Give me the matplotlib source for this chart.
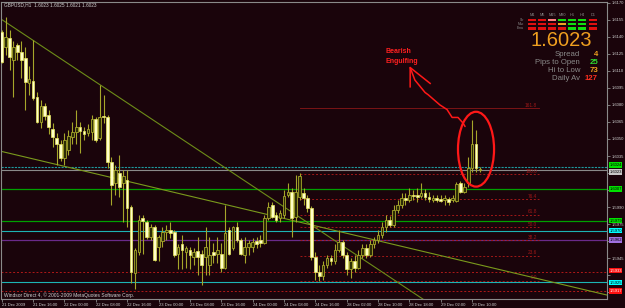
import matplotlib
matplotlib.use("Agg")
import matplotlib.pyplot as plt
from matplotlib.patches import Ellipse, Rectangle

# ---------------- data ----------------
opens = [
1.6144, 1.6131, 1.6139, 1.6120, 1.6133, 1.6127, 1.6121, 1.6099, 1.6101, 1.6087,
1.6065, 1.6079, 1.6071, 1.6059, 1.6051, 1.6046, 1.6033, 1.6040, 1.6052, 1.6056,
1.6061, 1.6057, 1.6055, 1.6056, 1.6068, 1.6051, 1.6070, 1.6069, 1.6030, 1.6011,
1.6020, 1.6011, 1.6014, 1.5990, 1.5932, 1.5950, 1.5980, 1.5977, 1.5964, 1.5972,
1.5955, 1.5960, 1.5968, 1.5970, 1.5968, 1.5949, 1.5957, 1.5950, 1.5952, 1.5946,
1.5951, 1.5949, 1.5946, 1.5939, 1.5950, 1.5949, 1.5949, 1.5936, 1.5970, 1.5954,
1.5972, 1.5961, 1.5948, 1.5955, 1.5955, 1.5960, 1.5961, 1.5958, 1.5980, 1.5992,
1.5983, 1.5980, 1.5983, 1.6001, 1.6003, 1.5981, 1.5999, 1.6002, 1.5998, 1.5989,
1.5946, 1.5933, 1.5929, 1.5939, 1.5945, 1.5942, 1.5952, 1.5959, 1.5948, 1.5935,
1.5942, 1.5936, 1.5948, 1.5954, 1.5948, 1.5957, 1.5961, 1.5965, 1.5972, 1.5979,
1.5974, 1.5987, 1.5992, 1.5998, 1.5996, 1.6001, 1.6001, 1.6000, 1.6002, 1.5999,
1.5996, 1.5998, 1.5997, 1.5996, 1.5997, 1.5996, 1.5995, 1.6011, 1.6003, 1.6011,
1.6024, 1.6046, 1.6023]
highs = [
1.6146, 1.6158, 1.6146, 1.6136, 1.6135, 1.6136, 1.6131, 1.6114, 1.6137, 1.6091,
1.6084, 1.6082, 1.6076, 1.6064, 1.6055, 1.6049, 1.6055, 1.6058, 1.6065, 1.6076,
1.6065, 1.6061, 1.6063, 1.6071, 1.6069, 1.6098, 1.6089, 1.6071, 1.6034, 1.6027,
1.6036, 1.6023, 1.6023, 1.5992, 1.5954, 1.5983, 1.5983, 1.5979, 1.5975, 1.5974,
1.5965, 1.5972, 1.5974, 1.5977, 1.5970, 1.5957, 1.5965, 1.5956, 1.5955, 1.5954,
1.5964, 1.5952, 1.5972, 1.5964, 1.5958, 1.5964, 1.5958, 1.5992, 1.5972, 1.5973,
1.5977, 1.5963, 1.5964, 1.5961, 1.5963, 1.5964, 1.5965, 1.5983, 1.5994, 1.5994,
1.5986, 1.5987, 1.6005, 1.6011, 1.6007, 1.6018, 1.6020, 1.6007, 1.6001, 1.5991,
1.5950, 1.5939, 1.5942, 1.5948, 1.5948, 1.5957, 1.5970, 1.5961, 1.5950, 1.5945,
1.5948, 1.5952, 1.5957, 1.5957, 1.5961, 1.5964, 1.5970, 1.5977, 1.5983, 1.5982,
1.5992, 1.5996, 1.6002, 1.6002, 1.6007, 1.6005, 1.6007, 1.6011, 1.6006, 1.6003,
1.6001, 1.6001, 1.6001, 1.6001, 1.5999, 1.6001, 1.6012, 1.6013, 1.6011, 1.6034,
1.6067, 1.6058, 1.6025]
lows = [
1.6117, 1.6124, 1.6111, 1.6087, 1.6120, 1.6104, 1.6076, 1.6089, 1.6084, 1.6064,
1.6060, 1.6067, 1.6054, 1.6043, 1.6027, 1.6031, 1.6027, 1.6036, 1.6046, 1.6046,
1.6038, 1.6049, 1.6053, 1.6049, 1.6047, 1.6049, 1.6064, 1.6024, 1.5992, 1.6001,
1.5999, 1.5977, 1.5972, 1.5923, 1.5918, 1.5948, 1.5949, 1.5962, 1.5961, 1.5942,
1.5942, 1.5955, 1.5961, 1.5963, 1.5946, 1.5935, 1.5935, 1.5936, 1.5935, 1.5939,
1.5930, 1.5921, 1.5930, 1.5930, 1.5941, 1.5941, 1.5933, 1.5935, 1.5948, 1.5952,
1.5959, 1.5948, 1.5941, 1.5948, 1.5950, 1.5954, 1.5955, 1.5957, 1.5979, 1.5980,
1.5977, 1.5977, 1.5980, 1.5999, 1.5964, 1.5977, 1.5996, 1.5992, 1.5986, 1.5943,
1.5926, 1.5925, 1.5926, 1.5936, 1.5939, 1.5940, 1.5950, 1.5945, 1.5930, 1.5927,
1.5933, 1.5935, 1.5945, 1.5945, 1.5946, 1.5954, 1.5958, 1.5963, 1.5968, 1.5972,
1.5972, 1.5985, 1.5989, 1.5992, 1.5994, 1.5996, 1.5994, 1.5998, 1.5996, 1.5994,
1.5994, 1.5994, 1.5994, 1.5992, 1.5992, 1.5994, 1.5994, 1.6002, 1.6002, 1.6008,
1.6021, 1.6021, 1.6021]
closes = [
1.6118, 1.6140, 1.6122, 1.6131, 1.6127, 1.6120, 1.6100, 1.6103, 1.6086, 1.6065,
1.6079, 1.6070, 1.6061, 1.6052, 1.6046, 1.6033, 1.6049, 1.6053, 1.6056, 1.6061,
1.6057, 1.6054, 1.6059, 1.6068, 1.6049, 1.6069, 1.6069, 1.6030, 1.6009, 1.6023,
1.6008, 1.6017, 1.5989, 1.5933, 1.5952, 1.5979, 1.5978, 1.5964, 1.5972, 1.5943,
1.5964, 1.5968, 1.5970, 1.5967, 1.5948, 1.5955, 1.5952, 1.5954, 1.5948, 1.5950,
1.5946, 1.5939, 1.5955, 1.5948, 1.5948, 1.5952, 1.5936, 1.5967, 1.5949, 1.5972,
1.5961, 1.5949, 1.5955, 1.5958, 1.5959, 1.5957, 1.5958, 1.5980, 1.5990, 1.5981,
1.5979, 1.5985, 1.6000, 1.6003, 1.5980, 1.6003, 1.6017, 1.5998, 1.5989, 1.5946,
1.5933, 1.5929, 1.5939, 1.5945, 1.5942, 1.5952, 1.5959, 1.5948, 1.5935, 1.5942,
1.5936, 1.5948, 1.5954, 1.5948, 1.5957, 1.5961, 1.5965, 1.5972, 1.5979, 1.5974,
1.5987, 1.5992, 1.5998, 1.5996, 1.6001, 1.6000, 1.5999, 1.6002, 1.5999, 1.5997,
1.5998, 1.5996, 1.5995, 1.5998, 1.5994, 1.5998, 1.6010, 1.6003, 1.6008, 1.6024,
1.6046, 1.6024, 1.6023]

time_labels = ["21 Dec 2009", "21 Dec 16:00", "22 Dec 00:00", "22 Dec 08:00",
               "22 Dec 16:00", "23 Dec 00:00", "23 Dec 08:00", "23 Dec 16:00",
               "24 Dec 00:00", "24 Dec 08:00", "24 Dec 16:00", "28 Dec 02:00",
               "28 Dec 10:00", "28 Dec 18:00", "29 Dec 02:00", "29 Dec 10:00"]
time_label_bars = [0, 8, 16, 24, 32, 40, 48, 56, 64, 72, 80, 88, 96, 104, 112, 120]

price_ticks = [1.6170, 1.6155, 1.6140, 1.6125, 1.6110, 1.6095, 1.6080, 1.6065,
               1.6050, 1.6035, 1.6020, 1.6005, 1.5990, 1.5975, 1.5960, 1.5945,
               1.5930, 1.5915]
# tick labels hidden behind the coloured price boxes in the original
hidden_ticks = [1.6020, 1.6005, 1.5960, 1.5930, 1.5915]

# horizontal levels: price, label text
level_prices = [1.6025, 1.6023, 1.6006, 1.5978, 1.5969, 1.5961, 1.5933, 1.5924, 1.5916]
level_labels = ["1.6024", "1.6023", "1.6007", "1.5979", "1.5970", "1.5962", "1.5933", "1.5925", "1.5917"]

# Fibonacci retracement
fib_high = 1.6019
fib_low = 1.5925
fib_levels = [0.0, 23.6, 38.2, 50.0, 61.8, 76.4, 100.0, 161.8]
fib_start_bar = 76
fib_end_bar = 137

# trend lines (bar, price) anchor pairs
upper_trend = [(8, 1.6137), (25, 1.6098)]
lower_trend = [(0, 1.6039), (100, 1.5957)]

# hand-drawn arrow (bar, price)
arrow_bars = [118.2, 117.7, 116.4, 114.9, 113.6, 111.8, 108.8, 108.0, 105.4, 104.2]
arrow_prices = [1.6061, 1.6064, 1.6069, 1.6069, 1.6076, 1.6080, 1.6089, 1.6091, 1.6102, 1.6113]
arrow_head_bars = [109.3, 104.2, 104.2]
arrow_head_prices = [1.6099, 1.6113, 1.6096]

header = "GBPUSD,H1  1.6023 1.6025 1.6021 1.6023"
bid = "1.6023"
stats_names = ["Spread", "Pips to Open", "Hi to Low", "Daily Av"]
stats_values = ["4", "25", "73", "127"]
tf_names = ["M1", "M5", "M15", "M30", "H1", "H4", "D1"]
signal_rows = [
    ["r", "r", "p", "g", "g", "g", "r"],
    ["r", "r", "r", "o", "g", "g", "r"],
    ["r", "r", "r", "r", "g", "g", "r"],
]

# ---------------- style ----------------
W, H = 625, 308
BG = "#1a040b"
FONT = "Liberation Sans"
plt.rcParams["font.family"] = [FONT, "DejaVu Sans"]

fig = plt.figure(figsize=(W / 100, H / 100), dpi=100, facecolor=BG)

def fx(x):
    return x / W

def fy(y):
    return 1 - y / H

ax_l, ax_r, ax_t, ax_b = 1, 607, 2, 299
ax = fig.add_axes([fx(ax_l), fy(ax_b), (ax_r - ax_l) / W, (ax_b - ax_t) / H])
ax.set_facecolor(BG)

PX_PER_BAR = 3.92
x0 = (ax_l - 1.7) / PX_PER_BAR
x1 = (ax_r - 1.7) / PX_PER_BAR
ax.set_xlim(x0, x1)
ax.set_ylim(1.59089, 1.61708)

for s in ax.spines.values():
    s.set_color("#8a8a8a")
    s.set_linewidth(0.8)

# horizontal lines
hl_styles = [
    dict(color="#1e9aa0", ls=(0, (2, 1)), lw=0.8),
    dict(color="#8a8a8a", ls="-", lw=0.8),
    dict(color="#00a000", ls="-", lw=0.9),
    dict(color="#00a000", ls="-", lw=0.9),
    dict(color="#1cb4b4", ls="-", lw=0.8),
    dict(color="#6a2a8a", ls="-", lw=0.9),
    dict(color="#b01818", ls=(0, (2, 2)), lw=0.7),
    dict(color="#1cb4b4", ls="-", lw=0.8),
    dict(color="#b01818", ls=(0, (2, 2)), lw=0.7),
]
for p, st in zip(level_prices, hl_styles):
    ax.axhline(p, zorder=1, **st)

# fib lines
for lv in fib_levels:
    p = fib_low + (fib_high - fib_low) * lv / 100.0
    ls = "-" if lv == 161.8 else (0, (2, 2))
    col = "#7a1416" if lv == 161.8 else "#a01818"
    ax.plot([fib_start_bar, fib_end_bar], [p, p], color=col, lw=0.7, ls=ls, zorder=1)
    ax.text(fib_end_bar - 0.5, p + 0.00004, f"{lv:.1f}", color="#a01818",
            fontsize=3.4, ha="right", va="bottom", zorder=2)

# trend lines (rays)
def ray(pts, color):
    (b1, p1), (b2, p2) = pts
    slope = (p2 - p1) / (b2 - b1)
    xs = [x0 - 1, x1 + 1]
    ys = [p1 + slope * (x - b1) for x in xs]
    ax.plot(xs, ys, color=color, lw=0.8, zorder=2)

ray(upper_trend, "#6d8c18")
ray(lower_trend, "#7a9a1c")

# candles
n = len(opens)
bw = 0.68
for i in range(n):
    o, h, l, c = opens[i], highs[i], lows[i], closes[i]
    bear = c < o
    ax.vlines(i, l, h, color="#a6a62a", lw=0.8, zorder=3)
    lo, hi = min(o, c), max(o, c)
    height = max(hi - lo, 0.00003)
    if bear:
        ax.add_patch(Rectangle((i - bw / 2, lo), bw, height, facecolor="#ffffc8",
                               edgecolor="#eaea60", lw=0.5, zorder=4))
    else:
        ax.add_patch(Rectangle((i - bw / 2, lo), bw, height, facecolor="#2c2c06",
                               edgecolor="#a6a62a", lw=0.6, zorder=4))

# axes ticks
ax.yaxis.tick_right()
ax.set_yticks(price_ticks)
ax.set_yticklabels(["" if p in hidden_ticks else f"{p:.4f}" for p in price_ticks])
ax.tick_params(axis="y", colors="#8a8a8a", labelcolor="#d0d0d0", labelsize=3.0,
               length=2, width=0.6, pad=1.2)
ax.set_xticks(time_label_bars)
ax.set_xticklabels(time_labels)
for t in ax.get_xticklabels():
    t.set_horizontalalignment("left")
ax.tick_params(axis="x", colors="#8a8a8a", labelcolor="#d0d0d0", labelsize=3.0,
               length=2, width=0.6, pad=0.6)

# colored price labels on right axis
lab_cols = [("#00e000", "#000000"), ("#c8c8c8", "#000000"), ("#00e000", "#000000"),
            ("#00e000", "#000000"), ("#00ffff", "#000000"), ("#a070e0", "#000000"),
            ("#ff1010", "#ffffff"), ("#00ffff", "#000000"), ("#ff1010", "#ffffff")]
lab_dy = [1.6, -1.8, 0, 0, 0, 0, 0.6, -0.6, 0]
for p, txt, (bc, tc), dy in zip(level_prices, level_labels, lab_cols, lab_dy):
    ax.annotate(txt, xy=(1.0, p), xycoords=("axes fraction", "data"),
                xytext=(1.6, dy), textcoords="offset points", fontsize=3.0,
                color=tc, va="center", ha="left", annotation_clip=False,
                bbox=dict(boxstyle="square,pad=0.15", fc=bc, ec="none"), zorder=10)

# header & copyright
fig.text(fx(4), fy(5), header, color="#d0d0d0", fontsize=3.4, ha="left", va="center")
fig.text(fx(4), fy(295), "Windsor Direct 4, \u00a9 2001-2009 MetaQuotes Software Corp.",
         color="#d0d0d0", fontsize=3.5, ha="left", va="center")

# annotation: Bearish Engulfing
ax.text(97.9, 1.6123, "Bearish\nEngulfing", color="#ff2020", fontsize=5.0,
        fontweight="bold", ha="left", va="center", linespacing=1.6, zorder=6)
ax.plot(arrow_bars, arrow_prices, color="#ff1818", lw=1.1, zorder=6,
        solid_capstyle="round", solid_joinstyle="round")
ax.plot(arrow_head_bars, arrow_head_prices, color="#ff1818", lw=1.1, zorder=6,
        solid_joinstyle="round")
ax.add_patch(Ellipse((121.0, 1.6041), 9.2, 0.0066, fill=False, ec="#ff1818",
                     lw=1.6, zorder=6))

# info panel
fig.text(fx(592), fy(41), bid, color="#f0a020", fontsize=14.5, ha="right",
         va="center")
ys = [55, 63, 70, 78]
val_cols = ["#f0a020", "#30e030", "#f0a020", "#ff3020"]
for yy, nm, v, vc in zip(ys, stats_names, stats_values, val_cols):
    fig.text(fx(580), fy(yy), nm, color="#8a8a8a", fontsize=5.6, ha="right", va="center")
    fig.text(fx(598), fy(yy), v, color=vc, fontsize=5.6, ha="right", va="center",
             fontweight="bold")

col_x = [532, 542, 552, 562, 572, 582, 593]
cmap = {"r": "#e01010", "g": "#10e010", "p": "#ff8080", "o": "#f0a020"}
for cx, nm in zip(col_x, tf_names):
    fig.text(fx(cx), fy(15.5), nm, color="#8a8a8a", fontsize=2.8, ha="center", va="center")
row_names = ["Str", "Mac", "Ema"]
row_y = [20, 24, 28.3]
for ry, rn, row in zip(row_y, row_names, signal_rows):
    fig.text(fx(524), fy(ry), rn, color="#8a8a8a", fontsize=2.4, ha="right", va="center")
    for cx, c in zip(col_x, row):
        fig.patches.append(Rectangle((fx(cx - 4), fy(ry + 1.2)), 8 / W, 2.6 / H,
                                     transform=fig.transFigure, facecolor=cmap[c],
                                     edgecolor="none", figure=fig))

fig.savefig("out.png", dpi=100, facecolor=BG)
